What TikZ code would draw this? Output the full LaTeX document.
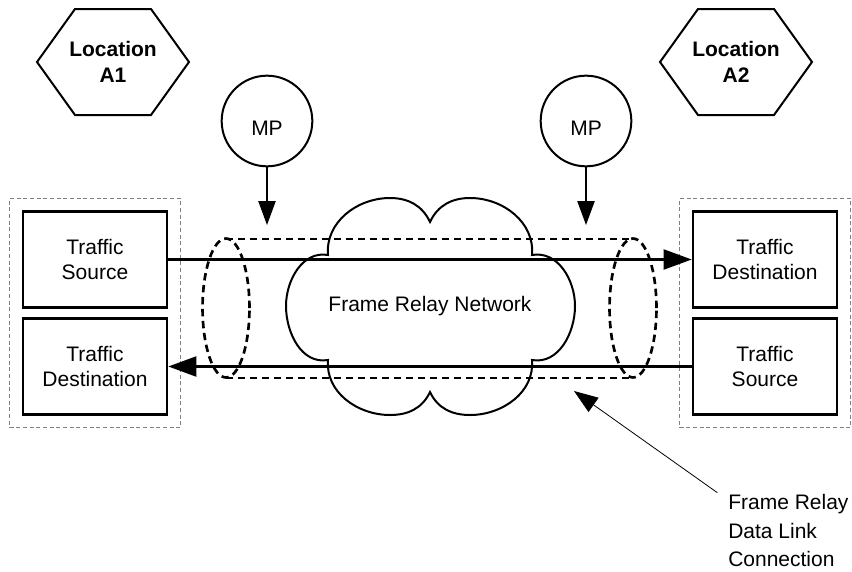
\documentclass[tikz,border=0pt]{standalone}
\usepackage{fontspec}
\setmainfont{Liberation Sans}
\usetikzlibrary{arrows.meta,fit,calc}

\tikzset{
  box/.style={shape=rectangle,draw,line width=2pt,minimum width=108pt,minimum height=72pt,align=center},
  site/.style={shape=rectangle,draw=gray,line width=0.6pt,dash pattern=on 3pt off 2pt,inner sep=9pt},
  probe/.style={shape=circle,draw,line width=1.5pt,minimum size=68pt,text height=22pt,text depth=0pt},
  place/.style={align=center,font=\fontsize{15.75}{20}\selectfont\bfseries},
  tunnel/.style={line width=2pt,dash pattern=on 5.5pt off 3.5pt},
  flow/.style={-{Triangle[length=21pt,width=15pt]},line width=1.6pt},
  tap/.style={-{Triangle[length=18pt,width=13pt]},line width=1pt},
  pointer/.style={-{Triangle[length=18pt,width=13pt]},line width=0.6pt},
}

\begin{document}
\begin{tikzpicture}[x=0.75pt,y=0.75pt,font=\fontsize{15.75}{19}\selectfont]
\useasboundingbox (0,0) rectangle (852,-571);
% locations
\node(locA1) [place] at (113,-62) {Location\\A1};
\node(locA2) [place] at (736,-62) {Location\\A2};
\draw [line width=1.5pt] ($(locA1)+(-76,0)$) -- ++(38,53) -- ++(76,0) -- ++(38,-53) -- ++(-38,-53) -- ++(-76,0) -- cycle;
\draw [line width=1.5pt] ($(locA2)+(-76,0)$) -- ++(38,53) -- ++(76,0) -- ++(38,-53) -- ++(-38,-53) -- ++(-76,0) -- cycle;
% network cloud
\draw [line width=1.5pt] (328,-255) to[out=95,in=180] (390,-198) to[out=0,in=115] (430,-222)
  to[out=65,in=180] (470,-198) to[out=0,in=85] (532,-255) to[out=10,in=90] (575,-306)
  to[out=-90,in=-10] (532,-360) to[out=-85,in=0] (470,-415) to[out=180,in=-65] (430,-392)
  to[out=-115,in=0] (390,-415) to[out=180,in=-95] (328,-360) to[out=190,in=-90] (286,-306)
  to[out=90,in=170] cycle;
\node(frnet) at (430,-306) {Frame Relay Network};
% data link connection
\draw [tunnel] (226,-308) ellipse [x radius=17.6pt,y radius=52.1pt];
\draw [tunnel] (633,-308) ellipse [x radius=17.6pt,y radius=52.1pt];
\draw [tunnel] (226,-239) -- (633,-239);
\draw [tunnel] (226,-378) -- (633,-378);
% end points
\node(srcA1) [box] at (95,-259.5) {Traffic\\Source};
\node(dstA1) [box] at (95,-366.5) {Traffic\\Destination};
\node(dstA2) [box] at (765,-259.5) {Traffic\\Destination};
\node(srcA2) [box] at (765,-366.5) {Traffic\\Source};
\node(siteA1) [site,fit=(srcA1)(dstA1)] {};
\node(siteA2) [site,fit=(dstA2)(srcA2)] {};
\draw [flow] (srcA1) -- (dstA2);
\draw [flow] (srcA2) -- (dstA1);
% measurement points
\node(mpA1) [probe] at (267,-121) {MP};
\node(mpA2) [probe] at (586,-121) {MP};
\coordinate(tapA1) at (267,-225);
\coordinate(tapA2) at (586,-225);
\draw [tap] (mpA1) -- (tapA1);
\draw [tap] (mpA2) -- (tapA2);
% label
\node(dlc) [align=left,inner sep=0pt,anchor=north west,font=\fontsize{15.75}{21.4}\selectfont] at (728,-494) {Frame Relay\\Data Link\\Connection};
\coordinate(dlcTip) at (574,-391);
\draw [pointer] ([shift={(-8pt,1pt)}]dlc.north west) -- (dlcTip);
\end{tikzpicture}
\end{document}
